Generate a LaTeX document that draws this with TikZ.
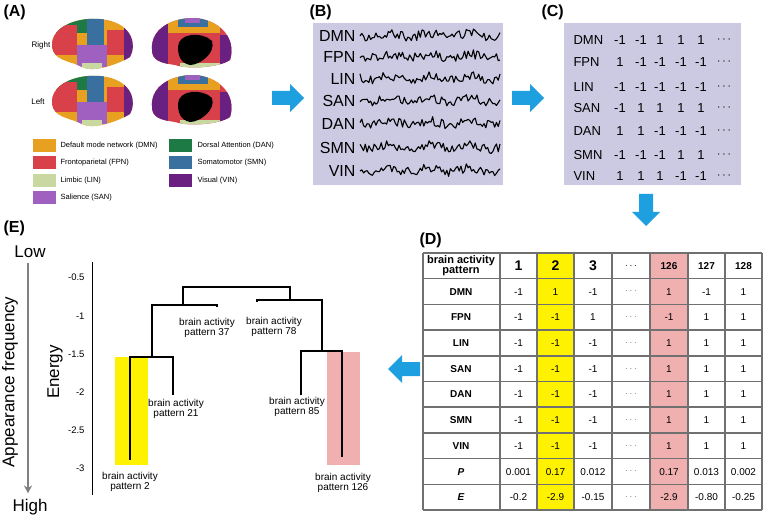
\documentclass[tikz,border=0pt]{standalone}
\usepackage{fontspec}
\setmainfont{Liberation Sans}
\usetikzlibrary{arrows.meta}
\definecolor{lav}{HTML}{CCC9E2}
\definecolor{cdmn}{HTML}{E8A020}
\definecolor{cfpn}{HTML}{D8404A}
\definecolor{clin}{HTML}{C8D8A0}
\definecolor{csan}{HTML}{A060C0}
\definecolor{cdan}{HTML}{1E7A44}
\definecolor{csmn}{HTML}{3A70A0}
\definecolor{cvin}{HTML}{6A2080}
\definecolor{cblue}{HTML}{1E9FE0}
\definecolor{ylw}{HTML}{FFF200}
\definecolor{pnk}{HTML}{F0B0B0}
\definecolor{grid}{HTML}{707070}
\newcommand{\fs}[1]{\fontsize{#1}{#1}\selectfont}
\tikzset{
 panel/.style={font=\fs{16}\bfseries,anchor=west},
 sw/.style={minimum width=23pt,minimum height=13pt,inner sep=0pt},
 leg/.style={font=\fs{7.5},anchor=west},
 sig/.style={font=\fs{16},anchor=east},
 mat/.style={font=\fs{13}},
 tab/.style={font=\fs{10}},
 tick/.style={font=\fs{9.5},anchor=east},
 dend/.style={line width=1.3pt},
 bap/.style={font=\fs{10},align=center,inner sep=0pt}
}
\newcommand{\barrow}[3]{% x,y,rotation
 \fill[cblue,shift={(#1,#2)},rotate=#3] (-16,-7) -- (2,-7) -- (2,-14) -- (16,0) -- (2,14) -- (2,7) -- (-16,7) -- cycle;}
\newcommand{\lateral}[2]{%
 \begin{scope}[shift={(#1,#2)}]
  \begin{scope}
   \clip (-40,2) .. controls (-42,-20) and (-10,-30) .. (15,-25) .. controls (40,-20) and (45,0) .. (38,12) .. controls (25,20) and (0,28) .. (-10,22) .. controls (-25,15) and (-38,15) .. (-40,2);
   \fill[cdmn] (-45,-35) rectangle (50,35);
   \fill[cdan] (-45,-35) rectangle (-5,-12);
   \fill[cfpn] (-40,-20) rectangle (-15,10);
   \fill[csmn] (-5,-35) rectangle (12,15);
   \fill[csan] (-15,0) rectangle (15,22);
   \fill[cfpn] (15,-15) rectangle (32,10);
   \fill[cvin] (32,-20) rectangle (50,35);
   \fill[cdmn] (-45,10) rectangle (-20,35);
   \fill[clin] (-10,18) rectangle (10,35);
  \end{scope}
 \end{scope}}
\newcommand{\medial}[2]{%
 \begin{scope}[shift={(#1,#2)}]
  \begin{scope}
   \clip (-38,5) .. controls (-40,-20) and (-10,-30) .. (12,-26) .. controls (38,-20) and (45,0) .. (40,15) .. controls (30,22) and (0,25) .. (-15,20) .. controls (-30,18) and (-38,15) .. (-38,5);
   \fill[cfpn] (-45,-35) rectangle (50,35);
   \fill[cvin] (-45,-35) rectangle (-22,35);
   \fill[cdmn] (-22,-28) rectangle (30,-12);
   \fill[csmn] (-12,-30) rectangle (18,-18);
   \fill[csan] (-5,-30) rectangle (10,-22);
   \fill[cvin] (30,-10) rectangle (50,35);
   \fill[clin] (-10,18) rectangle (30,35);
   \fill[black] (-12,2) .. controls (-12,-12) and (12,-14) .. (22,-4) .. controls (26,8) and (10,20) .. (0,20) .. controls (-10,18) and (-12,10) .. (-12,2);
  \end{scope}
 \end{scope}}
\begin{document}
\begin{tikzpicture}[x=1pt,y=-1pt]
\useasboundingbox (0,0) rectangle (765,518);
% (A)
\node[panel] (la) at (0,12) {(A)};
\node[font=\fs{8}] (right) at (41,45) {Right};
\node[font=\fs{8}] (left) at (38,102) {Left};
\lateral{92}{45}
\medial{190}{45}
\lateral{92}{102}
\medial{190}{102}
\foreach \c/\t/\y [count=\i] in {cdmn/Default mode network (DMN)/146,cfpn/Frontoparietal (FPN)/163,clin/Limbic (LIN)/181,csan/Salience (SAN)/198}{
 \node[sw,fill=\c] (s\i) at (44,\y) {};
 \node[leg] (t\i) at (57,\y) {\t};}
\foreach \c/\t/\y [count=\i] in {cdan/Dorsal Attention (DAN)/146,csmn/Somatomotor (SMN)/163,cvin/Visual (VIN)/181}{
 \node[sw,fill=\c] (u\i) at (180,\y) {};
 \node[leg] (v\i) at (194,\y) {\t};}
% arrows
\barrow{288}{98}{0}
\barrow{528}{98}{0}
\barrow{646}{210}{-90}
\barrow{404}{369}{180}
% (B)
\node[panel] (lb) at (306,12) {(B)};
\fill[lav] (313,23) rectangle (503,185);
\pgfmathsetseed{7}
\foreach \n/\y [count=\i] in {DMN/36,FPN/57,LIN/79,SAN/101,DAN/124,SMN/148,VIN/171}{
 \node[sig] (b\i) at (359,\y) {\n};
 \draw[line width=1.1pt,line join=round] plot[samples=80,domain=0:140] ({360+\x},{\y-1+4.5*rand+2*sin(\x*9)});
}
% (C)
\node[panel] (lc) at (538,12) {(C)};
\fill[lav] (564,23) rectangle (741,185);
\foreach \n/\a/\b/\c/\d/\e/\y [count=\i] in {DMN/-1/-1/1/1/1/40,FPN/1/-1/-1/-1/-1/62,LIN/-1/-1/-1/-1/-1/87,SAN/-1/1/1/1/1/108,DAN/1/1/-1/-1/-1/131,SMN/-1/-1/-1/1/1/155,VIN/1/1/1/-1/-1/176}{
 \node[mat,anchor=west] (c\i) at (570,\y) {\n};
 \node[mat] at (620,\y) {\a};
 \node[mat] at (641,\y) {\b};
 \node[mat] at (660,\y) {\c};
 \node[mat] at (681,\y) {\d};
 \node[mat] at (701,\y) {\e};
 \node[mat] at (724,\y) {$\cdots$};
}
% (D)
\node[panel] (ld) at (416,240) {(D)};
\fill[ylw] (537,253) rectangle (574,510);
\fill[pnk] (650,253) rectangle (688,510);
\foreach \x in {423,500,537,574,612,650,688,725,762} \draw[grid,line width=1.6pt] (\x,253) -- (\x,510);
\foreach \k in {0,...,10} \draw[grid,line width=1.6pt] (423,253+25.7*\k) -- (762,253+25.7*\k);
\node[tab,font=\fs{11}\bfseries,align=center,inner sep=0pt] (h0) at (461,266) {brain activity\\[-1pt]pattern};
\foreach \t/\x in {1/518.5,2/555.5,3/593} \node[font=\fs{14}\bfseries] at (\x,266) {\t};
\node[font=\fs{10}\bfseries] at (631,266) {$\cdots$};
\foreach \t/\x in {126/669,127/706.5,128/743.5} \node[font=\fs{10}\bfseries] at (\x,266) {\t};
\foreach \n/\a/\b/\c/\d/\e/\f [count=\i] in {DMN/-1/1/-1/1/-1/1,FPN/-1/-1/1/-1/1/1,LIN/-1/-1/-1/1/1/1,SAN/-1/-1/-1/1/1/1,DAN/-1/-1/-1/1/1/1,SMN/-1/-1/-1/1/1/1,VIN/-1/-1/-1/1/1/1,\textit{P}/0.001/0.17/0.012/0.17/0.013/0.002,\textit{E}/-0.2/-2.9/-0.15/-2.9/-0.80/-0.25}{
 \pgfmathsetmacro\yy{266+25.7*\i}
 \node[font=\fs{10}\bfseries] at (461,\yy) {\n};
 \node[tab] at (518.5,\yy) {\a};
 \node[tab] at (555.5,\yy) {\b};
 \node[tab] at (593,\yy) {\c};
 \node[tab,gray] at (631,\yy) {$\cdots$};
 \node[tab] at (669,\yy) {\d};
 \node[tab] at (706.5,\yy) {\e};
 \node[tab] at (743.5,\yy) {\f};
}
% (E)
\node[panel] (le) at (0,228) {(E)};
\node[font=\fs{17}] (low) at (30,252) {Low};
\node[font=\fs{17}] (high) at (30,507) {High};
\draw[gray,line width=1.5pt,-{Stealth[length=8pt,width=8pt]}] (low.south) ++(-2,2) -- ++(0,230);
\node[font=\fs{17},rotate=90] (af) at (10,382) {Appearance frequency};
\node[font=\fs{17},rotate=90] (en) at (55,372) {Energy};
\draw[line width=1pt] (92,262) -- (92,495);
\foreach \t/\y in {-0.5/277,-1/316,-1.5/354,-2/392,-2.5/430,-3/468} \node[tick] at (88,\y) {\t};
\fill[ylw] (115,357) rectangle (148,465);
\fill[pnk] (327,352) rectangle (360,465);
\draw[dend] (183,305) -- (183,287) -- (290,287) -- (290,300);
\draw[dend] (152,357) -- (152,305) -- (217,305) -- (217,307);
\draw[dend] (257,302) -- (257,300) -- (322,300) -- (322,351);
\draw[dend] (130,460) -- (130,357) -- (173,357) -- (173,395);
\draw[dend] (301,395) -- (301,351) -- (342,351) -- (342,457);
\node[bap] (p37) at (207,328) {brain activity\\pattern 37};
\node[bap] (p78) at (274,327) {brain activity\\pattern 78};
\node[bap] (p21) at (176,409) {brain activity\\pattern 21};
\node[bap] (p85) at (297,407) {brain activity\\pattern 85};
\node[bap] (p2) at (130,482) {brain activity\\pattern 2};
\node[bap] (p126) at (343,483) {brain activity\\pattern 126};
\end{tikzpicture}
\end{document}
